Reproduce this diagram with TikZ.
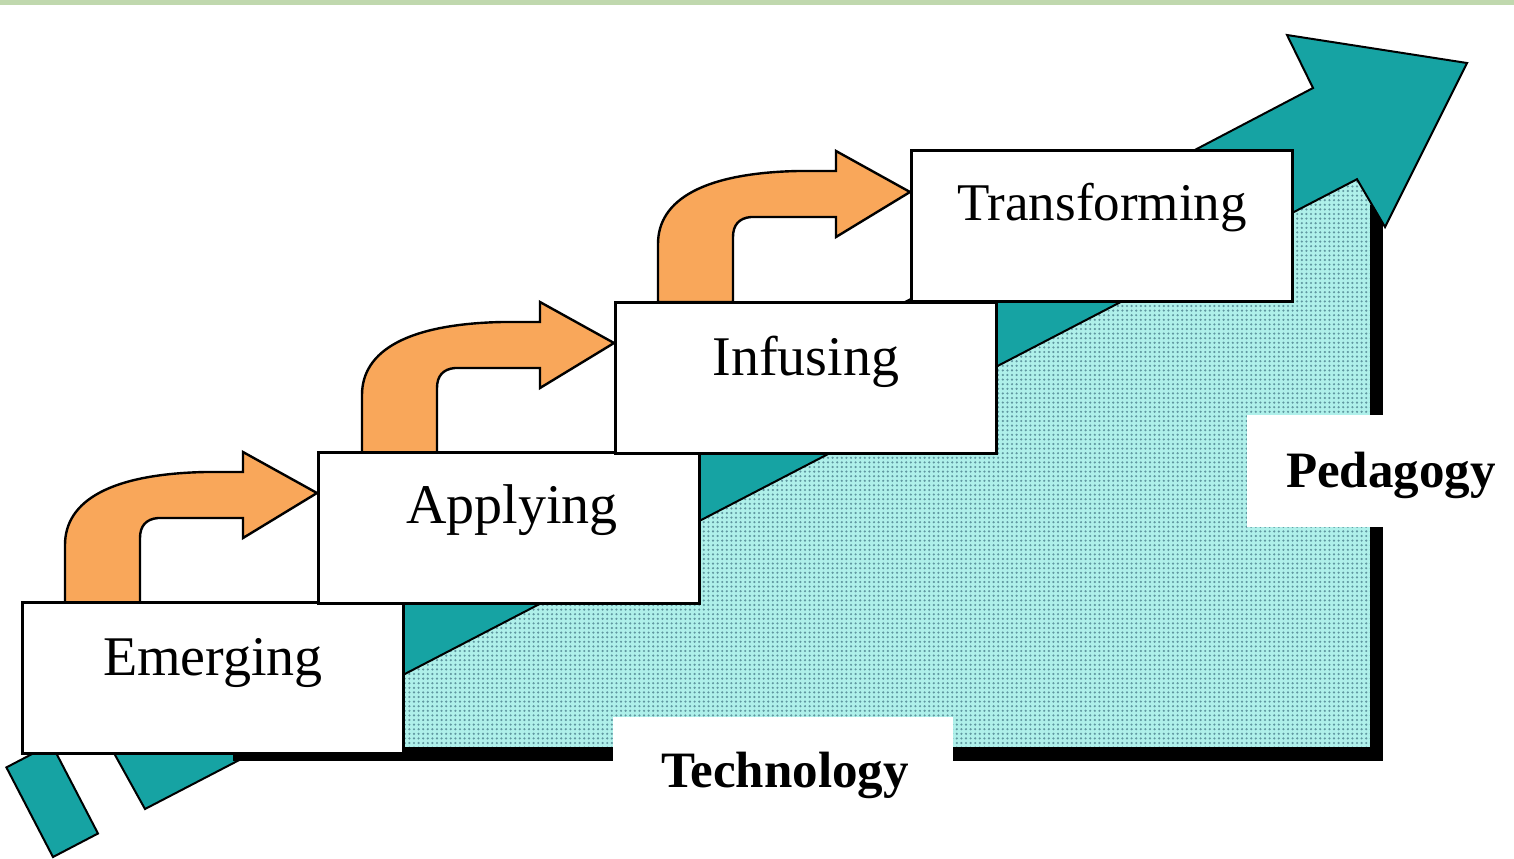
\documentclass[tikz,border=0pt]{standalone}
\usepackage{fontspec}
\setmainfont{Liberation Serif}
\usetikzlibrary{patterns.meta}
\definecolor{tealA}{RGB}{22,163,163}
\definecolor{orangeA}{RGB}{249,167,90}
\definecolor{dotbg}{RGB}{175,240,234}
\definecolor{dotfg}{RGB}{95,150,160}
\definecolor{greenbar}{RGB}{192,216,174}
\begin{document}
\begin{tikzpicture}[x=0.5pt,y=-0.5pt,
  stagebox/.style={draw=black, line width=1.5pt, fill=white, minimum width=190.5pt, minimum height=75.5pt, inner sep=0pt},
  stagetext/.style={anchor=base, font=\fontsize{28}{30}\selectfont, inner sep=0pt},
  axistext/.style={anchor=base, font=\fontsize{25.5}{28}\selectfont\bfseries, inner sep=0pt},
  bigarrow/.style={fill=tealA, draw=black, line width=1pt, line join=miter},
  bentarrow/.style={fill=orangeA, draw=black, line width=1.2pt, line join=miter},
  shadowbar/.style={fill=black},
  labelback/.style={fill=white}]
\useasboundingbox (0,0) rectangle (1514,858);
\fill[greenbar] (0,0) rectangle (1514,5);
% dotted area
\fill[dotbg] (380,684) -- (1357,174) -- (1372,195) -- (1372,748) -- (380,748) -- cycle;
\fill[pattern={Dots[distance=2.3pt,radius=0.6pt]}, pattern color=dotfg] (380,684) -- (1357,174) -- (1372,195) -- (1372,748) -- (380,748) -- cycle;
% right shadow bar
\fill[shadowbar] (1370,205) rectangle (1383,761);
% big teal arrow
\draw[bigarrow] (6.4,767.4) -- (53,857) -- (98,833.5) -- (51.4,743.9) -- cycle;
\draw[bigarrow] (98.4,725) -- (145,809) -- (1357,179.2) -- (1385,227) -- (1467,63) -- (1287,35) -- (1313,88) -- cycle;
% bottom shadow bar
\fill[shadowbar] (233,747) rectangle (1383,761);
% axis labels
\fill[labelback] (613,717) rectangle (953,858);
\fill[labelback] (1247,415) rectangle (1514,527);
\node[axistext] (technology) at (785,787) {Technology};
\node[axistext] (pedagogy) at (1391,487) {Pedagogy};
% bent orange arrows
\foreach \dx/\dy [count=\i] in {0/0, 297/-150, 593/-301}{
  \begin{scope}[shift={(\dx,\dy)}]
    \draw[bentarrow] (65,603) -- (65,545) .. controls (65,500) and (112,474) .. (205,472)
      -- (243,472) -- (243,452) -- (317,493) -- (243,538) -- (243,518) -- (158,518)
      .. controls (146,519) and (140,526) .. (140,538) -- (140,603) -- cycle;
  \end{scope}
}
% stage boxes
\node[stagebox] (emerging) at (212.5,678) {};
\node[stagebox] (applying) at (509,528) {};
\node[stagebox] (infusing) at (806,377.5) {};
\node[stagebox] (transforming) at (1102,225.5) {};
\node[stagetext] (temerging) at (213,675) {Emerging};
\node[stagetext] (tapplying) at (512,523) {Applying};
\node[stagetext] (tinfusing) at (806,375) {Infusing};
\node[stagetext, font=\fontsize{26.5}{28}\selectfont] (ttransforming) at (1102,220) {Transforming};
\end{tikzpicture}
\end{document}
